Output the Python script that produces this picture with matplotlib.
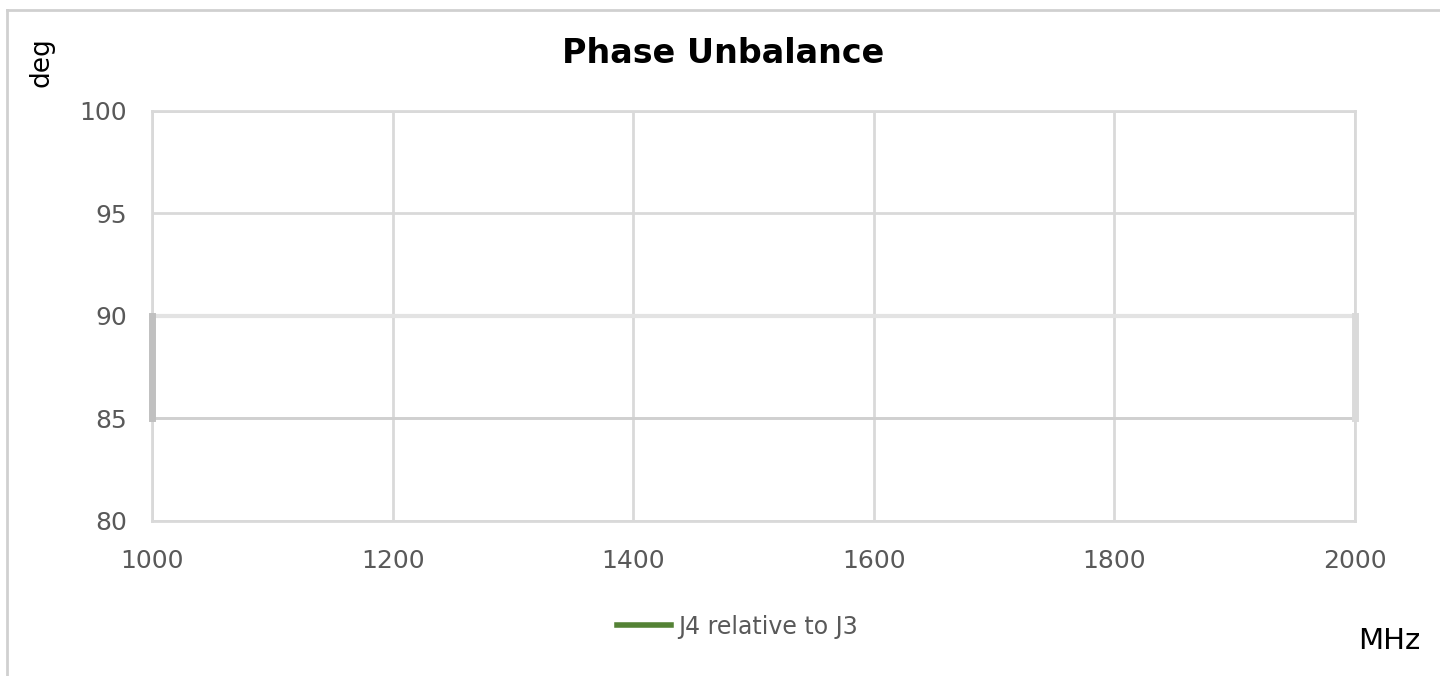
import matplotlib
matplotlib.use("Agg")
import matplotlib.pyplot as plt
from matplotlib.lines import Line2D

# ── data ─────────────────────────────────────────────
freq_ticks = [1000, 1200, 1400, 1600, 1800, 2000]
deg_ticks = [80, 85, 90, 95, 100]

# spec window (limit box)
limit_freq = [1000, 2000]
limit_upper = 90
limit_lower = 85

# measured series (nothing falls inside the visible range)
series_name = "J4 relative to J3"
series_freq = []
series_deg = []

GRID = "#d9d9d9"
TEXT = "#595959"

fig = plt.figure(figsize=(14.4, 6.76), dpi=100, facecolor="white")
ax = fig.add_axes([0.1056, 0.2293, 0.8354, 0.6065])

ax.set_xlim(freq_ticks[0], freq_ticks[-1])
ax.set_ylim(deg_ticks[0], deg_ticks[-1])
ax.set_xticks(freq_ticks)
ax.set_yticks(deg_ticks)
ax.grid(True, color=GRID, linewidth=2, zorder=0)
for s in ax.spines.values():
    s.set_color(GRID)
    s.set_linewidth(2)
ax.tick_params(length=0, colors=TEXT, labelsize=18)
ax.tick_params(axis="y", pad=18)
ax.tick_params(axis="x", pad=20)

# limit box
ax.plot(limit_freq, [limit_upper] * 2, color="#e3e3e3", linewidth=3, zorder=2)
ax.plot(limit_freq, [limit_lower] * 2, color="#d0d0d0", linewidth=2, zorder=2)
ax.plot([limit_freq[0]] * 2, [limit_lower, limit_upper], color="#c0c0c0",
        linewidth=5, zorder=3, clip_on=False)
ax.plot([limit_freq[1]] * 2, [limit_lower, limit_upper], color="#dadada",
        linewidth=5, zorder=3, clip_on=False)

ax.plot(series_freq, series_deg, color="#548235", linewidth=3, zorder=4)

fig.text(0.502, 0.921, "Phase Unbalance", fontsize=24, fontweight="bold",
         color="black", ha="center", va="center")
fig.text(0.029, 0.908, "deg", rotation=90, fontsize=19, color="black",
         ha="center", va="center")
fig.text(0.965, 0.052, "MHz", fontsize=21, color="black", ha="center",
         va="center")

handle = Line2D([], [], color="#548235", linewidth=4)
fig.legend([handle], [series_name], loc="center", bbox_to_anchor=(0.512, 0.073),
           frameon=False, fontsize=17, labelcolor=TEXT, handlelength=2.3,
           handletextpad=0.3)

# outer chart border
fig.add_artist(Line2D([0.005, 0.005], [0, 0.985], color="#d0d0d0", linewidth=2,
                      transform=fig.transFigure))
fig.add_artist(Line2D([0.005, 1], [0.985, 0.985], color="#d0d0d0", linewidth=2,
                      transform=fig.transFigure))

fig.savefig("out.png", dpi=100, facecolor="white")
